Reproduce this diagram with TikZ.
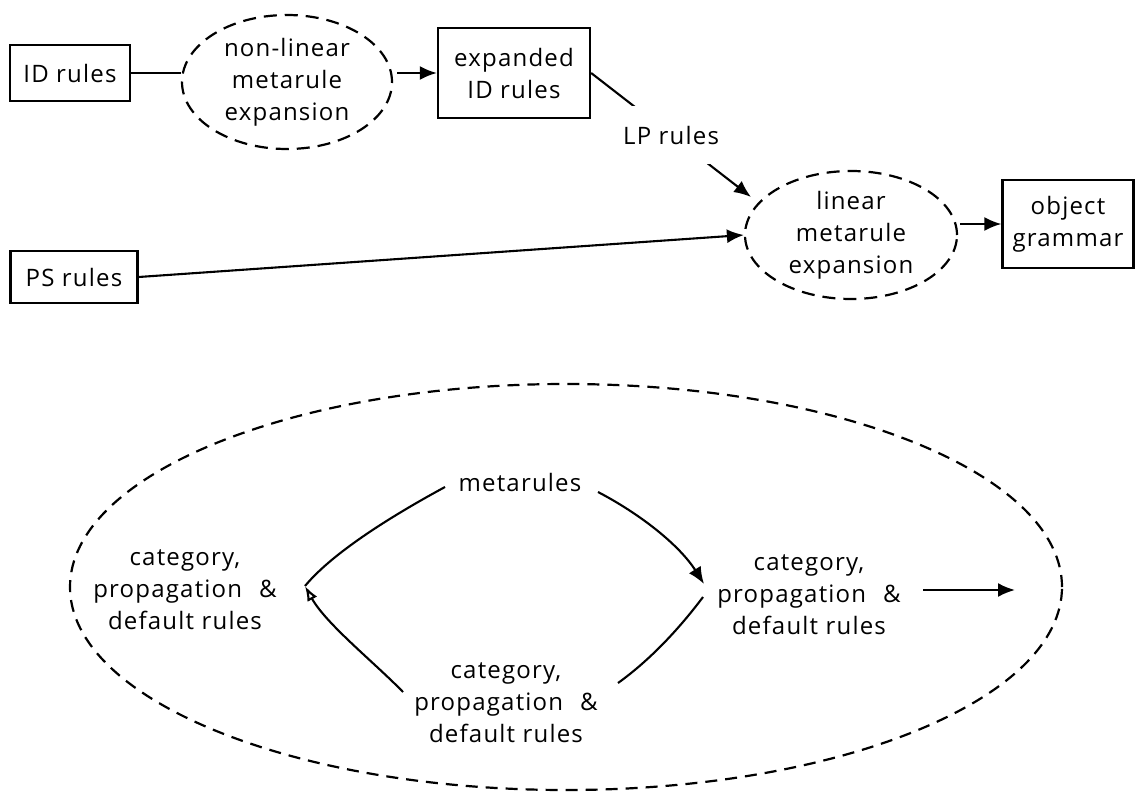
\documentclass[tikz,border=0pt]{standalone}
\usepackage{fontspec}
\setmainfont{Open Sans}[LetterSpace=5]
\usetikzlibrary{shapes.geometric,arrows.meta}
\newcommand\lbl{\fontsize{24}{32}\selectfont}
\begin{document}
\begin{tikzpicture}[x=1pt,y=-1pt,line width=2.1pt,
  box/.style={draw,rectangle,inner sep=0pt,align=center,font=\lbl,line width=2.3pt},
  dell/.style={draw,ellipse,dash pattern=on 13pt off 8pt,line width=2.2pt,inner sep=0pt,align=center,font=\lbl},
  txt/.style={align=center,inner sep=0pt,font=\lbl},
  arr/.style={-{Latex[length=17pt,width=14pt]}},
  arro/.style={-{Latex[open,length=15pt,width=11pt]}}]
\useasboundingbox (0,0) rectangle (1137,792);
% top part
\node[box,minimum width=120pt,minimum height=56pt] (id) at (70,73) {ID rules};
\node[dell,minimum width=210pt,minimum height=134pt] (nl) at (287,82) {non-linear\\metarule\\expansion};
\node[box,minimum width=152pt,minimum height=90pt] (exp) at (514,73) {expanded\\ID rules};
\node[box,minimum width=127pt,minimum height=52pt] (ps) at (74,277) {PS rules};
\node[dell,minimum width=212pt,minimum height=128pt] (lin) at (851,235) {linear\\metarule\\expansion};
\node[box,minimum width=131pt,minimum height=88pt] (obj) at (1068,224) {object\\grammar};
\coordinate (lpend) at (751,197);
\draw (id.east) -- (id.east -| nl.west);
\draw[arr,shorten <=4pt] (nl.east |- exp.west) -- (exp.west);
\draw[arr] (exp.east) -- node[txt,fill=white,minimum height=58pt] (lp) {LP rules} (lpend);
\draw[arr] (ps.east) -- (lin.west);
\draw[arr,shorten <=2pt] (lin.east |- obj.west) -- (obj.west);
% bottom part
\node[draw,ellipse,dash pattern=on 12pt off 8pt,line width=2.2pt,inner sep=0pt,minimum width=992pt,minimum height=406pt] (outer) at (566,587) {};
\node[txt] (meta) at (520,482) {metarules};
\node[txt] (L) at (185,590) {category,\\propagation\hspace{0.4em} \&\\default rules};
\node[txt] (R) at (809,595) {category,\\propagation\hspace{0.4em} \&\\default rules};
\node[txt] (B) at (506,703) {category,\\propagation\hspace{0.4em} \&\\default rules};
\coordinate (Ltip) at (305,586);
\coordinate (Rtip) at (704,584);
\coordinate (Rlow) at (703,597);
\coordinate (m1) at (445,487);
\coordinate (m2) at (598,492);
\coordinate (b1) at (403,692);
\coordinate (b2) at (618,683);
\coordinate (Rend) at (1015,590);
\coordinate (Rstart) at (923,590);
\draw (m1) .. controls (397,513) and (334,551) .. (Ltip);
\draw[arro] (b1) .. controls (375,663) and (326,624) .. (Ltip);
\draw[arr] (m2) .. controls (642,515) and (680,546) .. (Rtip);
\draw (Rlow) .. controls (679,629) and (650,660) .. (b2);
\draw[arr] (Rstart) -- (Rend);
\end{tikzpicture}
\end{document}
